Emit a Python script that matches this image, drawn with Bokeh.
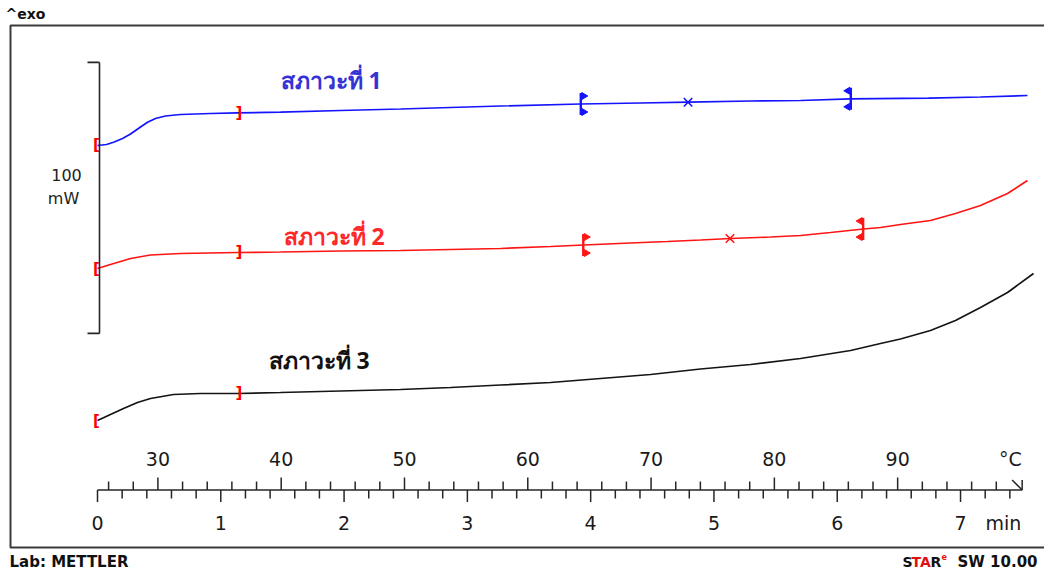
import numpy as np
from bokeh.plotting import figure
from bokeh.models import Range1d, Label
from bokeh.core.properties import value
from bokeh.embed import file_html
from bokeh.resources import INLINE

# ---------------- data (time in min, heat flow in mW on a shared offset scale) ----------------
time_1 = [0.0, 0.073, 0.130, 0.203, 0.268, 0.349, 0.406, 0.470, 0.551, 0.673, 0.917, 1.136,
          1.484, 1.971, 2.458, 3.269, 3.918, 4.404, 4.794, 5.296, 5.702, 6.108, 6.740, 7.162, 7.543]
hf_1 = [148.34, 148.71, 149.56, 150.92, 152.58, 155.17, 156.94, 158.30, 159.23, 159.78, 160.15, 160.41,
        160.63, 161.25, 161.81, 162.92, 163.65, 164.02, 164.32, 164.76, 164.94, 165.57, 165.79, 166.24, 166.79]

time_2 = [0.0, 0.105, 0.268, 0.430, 0.673, 1.136, 1.484, 1.971, 2.458, 2.863, 3.269, 3.675, 3.942,
          4.323, 4.623, 4.891, 5.134, 5.459, 5.702, 5.945, 6.213, 6.351, 6.513, 6.756, 6.959, 7.162,
          7.381, 7.543]
hf_2 = [102.95, 104.43, 106.64, 107.93, 108.49, 108.86, 109.04, 109.41, 109.59, 109.96, 110.33, 111.07,
        111.62, 112.36, 112.92, 113.47, 114.02, 114.58, 115.13, 116.24, 117.53, 118.08, 119.19, 120.66,
        123.25, 126.20, 130.63, 135.42]

time_3 = [0.0, 0.105, 0.211, 0.324, 0.430, 0.616, 0.835, 1.136, 1.484, 1.971, 2.458, 2.863, 3.269,
          3.675, 4.080, 4.486, 4.891, 5.297, 5.702, 6.108, 6.351, 6.513, 6.756, 6.959, 7.162, 7.381, 7.592]
hf_3 = [46.86, 49.08, 51.29, 53.51, 54.98, 56.46, 56.83, 56.83, 57.20, 57.75, 58.30, 59.04, 59.96,
        60.89, 62.36, 63.84, 65.87, 67.53, 69.74, 72.69, 75.28, 76.94, 80.07, 83.76, 88.56, 94.10, 101.11]

curve_names = ["สภาวะที่ 1", "สภาวะที่ 2", "สภาวะที่ 3"]
curve_colors = ["#1414ff", "#ff1414", "#141414"]
label_colors = ["#3434d4", "#ff2828", "#111111"]

range_start = [0.0, 0.0, 0.0]      # red "[" markers
range_end = [1.14, 1.14, 1.14]     # red "]" markers
eval_left = [3.92, 3.94]           # evaluation limits (curves 1 and 2)
eval_right = [6.11, 6.21]
eval_cross = [4.79, 5.13]          # "x" marks

scale_bar_mw = 100
scale_bar_bottom = 79.0

temp_major = [30, 40, 50, 60, 70, 80, 90]
temp_minor = [26, 28, 32, 34, 36, 38, 42, 44, 46, 48, 52, 54, 56, 58, 62, 64, 66, 68,
              72, 74, 76, 78, 82, 84, 86, 88, 92, 94, 96, 98]
time_major = [0, 1, 2, 3, 4, 5, 6, 7]
time_minor = [0.2, 0.4, 0.6, 0.8, 1.2, 1.4, 1.6, 1.8, 2.2, 2.4, 2.6, 2.8, 3.2, 3.4, 3.6, 3.8,
              4.2, 4.4, 4.6, 4.8, 5.2, 5.4, 5.6, 5.8, 6.2, 6.4, 6.6, 6.8, 7.2, 7.4]
T_START = 25.1   # degC at t = 0
RATE = 10.0      # K/min
T_END = 7.5      # min, end of time axis

# ---------------- layout helpers (page pixel -> data) ----------------
W, H = 1044, 572
PX_MIN = 123.29
PX_MW = 2.71
X0_PX = 97
Y0_PX = 547


def dx(px):
    return (px - X0_PX) / PX_MIN


def dy(py):
    return (Y0_PX - py) / PX_MW


def hx(n):
    return n / PX_MIN


def hy(n):
    return n / PX_MW


p = figure(width=W, height=H,
           x_range=Range1d(dx(0), dx(W)), y_range=Range1d(dy(H), dy(0)),
           min_border=0, x_axis_location=None, y_axis_location=None,
           toolbar_location=None, output_backend="svg", title=None)
try:
    p.grid.visible = False
except Exception:
    pass
p.outline_line_color = None
p.background_fill_color = "white"
p.border_fill_color = "white"

FONT = "DejaVu Sans"
AX = "#262626"

# outer box
p.quad(left=[dx(10)], right=[dx(W + 20)], top=[dy(25)], bottom=[dy(547)],
       fill_color=None, line_color="#3a3a3a", line_width=2)

# ---------------- curves ----------------
times = [time_1, time_2, time_3]
hfs = [hf_1, hf_2, hf_3]
for t, h, c in zip(times, hfs, curve_colors):
    p.line(t, h, line_color=c, line_width=1.7)

# range brackets
for t, h, a, b in zip(times, hfs, range_start, range_end):
    p.text(x=[a - hx(1), b + hx(1)], y=[np.interp(a, t, h), np.interp(b, t, h)], text=["[", "]"],
           text_color="#ff0000", text_align="center", text_baseline="middle",
           text_font=value(FONT), text_font_size="15px", text_font_style="bold")

# evaluation limits and crosses
for i in range(2):
    t, h, c = times[i], hfs[i], curve_colors[i]
    for tl, side in ((eval_left[i], 1), (eval_right[i], -1)):
        yl = np.interp(tl, t, h)
        p.segment(x0=[tl], y0=[yl - hy(11)], x1=[tl], y1=[yl + hy(11)], line_color=c, line_width=2.4)
        p.scatter(x=[tl + side * hx(3), tl + side * hx(3)], y=[yl + hy(8), yl - hy(8)],
                  marker="triangle", size=7, angle=-side * np.pi / 2,
                  fill_color=c, line_color=c)
    xc = eval_cross[i]
    p.scatter(x=[xc], y=[np.interp(xc, t, h)], marker="x", size=12, line_color=c, line_width=1.6)

# curve labels
label_pos = [(280, 79), (283, 235), (268, 359)]
for name, col, (lx, ly) in zip(curve_names, label_colors, label_pos):
    p.add_layout(Label(x=dx(lx), y=dy(ly), text=name, text_color=col, text_font="Noto Sans",
                       text_font_size="23px", text_font_style="bold",
                       text_align="left", text_baseline="middle"))

# ---------------- scale bar ----------------
xb = dx(99)
p.segment(x0=[xb], y0=[scale_bar_bottom], x1=[xb], y1=[scale_bar_bottom + scale_bar_mw],
          line_color=AX, line_width=1.6)
p.segment(x0=[xb - hx(12), xb - hx(12)], y0=[scale_bar_bottom, scale_bar_bottom + scale_bar_mw],
          x1=[xb, xb], y1=[scale_bar_bottom, scale_bar_bottom + scale_bar_mw],
          line_color=AX, line_width=1.6)
p.text(x=[dx(66), dx(63)], y=[dy(174), dy(198)], text=[str(scale_bar_mw), "mW"],
       text_align="center", text_baseline="middle", text_color="#222",
       text_font=value(FONT), text_font_size="16px")

# ---------------- combined temperature / time axis ----------------
yb = dy(489.5)
p.segment(x0=[0], y0=[yb], x1=[T_END], y1=[yb], line_color=AX, line_width=1.6)

tmaj = [(T - T_START) / RATE for T in temp_major]
tmin = [(T - T_START) / RATE for T in temp_minor]
p.segment(x0=tmaj, y0=[yb] * len(tmaj), x1=tmaj, y1=[yb + hy(12.5)] * len(tmaj), line_color=AX, line_width=1.5)
p.segment(x0=tmin, y0=[yb] * len(tmin), x1=tmin, y1=[yb + hy(8.5)] * len(tmin), line_color=AX, line_width=1.5)
p.segment(x0=time_major, y0=[yb] * len(time_major), x1=time_major, y1=[yb - hy(12)] * len(time_major),
          line_color=AX, line_width=1.5)
p.segment(x0=time_minor, y0=[yb] * len(time_minor), x1=time_minor, y1=[yb - hy(8.5)] * len(time_minor),
          line_color=AX, line_width=1.5)
# arrow head at the end of the axis
p.segment(x0=[T_END - hx(10), T_END], y0=[yb + hy(10), yb + hy(10)], x1=[T_END, T_END], y1=[yb, yb],
          line_color=AX, line_width=1.5)

p.text(x=tmaj, y=[dy(458)] * len(tmaj), text=[str(T) for T in temp_major],
       text_align="center", text_baseline="middle", text_color="#1a1a1a",
       text_font=value(FONT), text_font_size="19px")
p.text(x=time_major, y=[dy(522)] * len(time_major), text=[str(m) for m in time_major],
       text_align="center", text_baseline="middle", text_color="#1a1a1a",
       text_font=value(FONT), text_font_size="19px")
p.text(x=[dx(1010)], y=[dy(458)], text=["°C"], text_align="center", text_baseline="middle",
       text_color="#1a1a1a", text_font=value(FONT), text_font_size="19px")
p.text(x=[dx(1003)], y=[dy(522)], text=["min"], text_align="center", text_baseline="middle",
       text_color="#1a1a1a", text_font=value(FONT), text_font_size="19px")


# ---------------- texts around the box ----------------
def lab(px, py, txt, color="#111", size="14px", style="bold", align="left"):
    p.add_layout(Label(x=dx(px), y=dy(py), text=txt, text_color=color, text_font=FONT,
                       text_font_size=size, text_font_style=style,
                       text_align=align, text_baseline="middle"))


lab(5, 13, "^exo", size="14px")
lab(9, 561, "Lab: METTLER", size="15px")
lab(902, 561, "S")
lab(911, 561, "TA", color="#e01010")
lab(930, 561, "R")
lab(941, 556, "e", color="#e01010", size="8px")
lab(1037, 561, "SW 10.00", size="15px", align="right")

open("out.html", "w").write(file_html(p, INLINE))
